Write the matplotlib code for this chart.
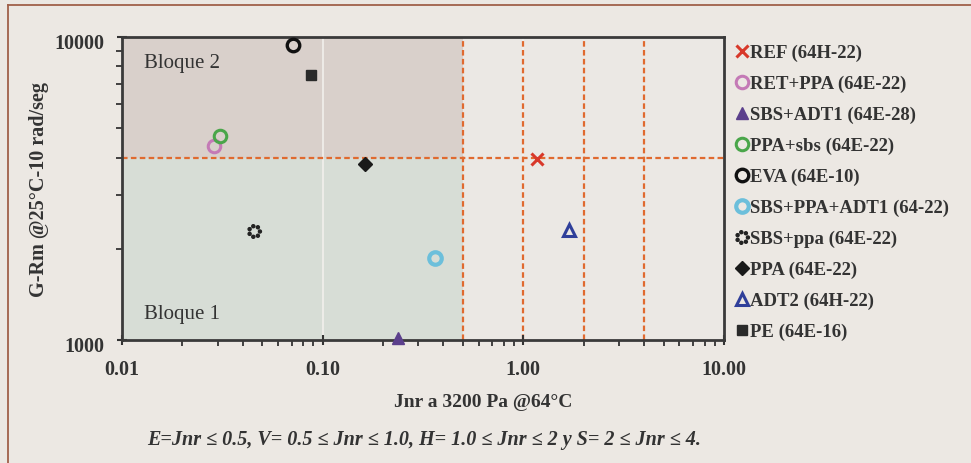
import math
import matplotlib.pyplot as plt
import matplotlib.transforms as mtransforms
from matplotlib.path import Path
from matplotlib.ticker import FixedLocator, FixedFormatter, NullFormatter, LogLocator
from matplotlib.lines import Line2D

plt.rcParams['font.family'] = ['Liberation Serif', 'DejaVu Serif']

# binder samples: Jnr at 3200 Pa (64 C) vs G-Rm at 25 C
labels = ["REF (64H-22)", "RET+PPA (64E-22)", "SBS+ADT1 (64E-28)", "PPA+sbs (64E-22)",
          "EVA (64E-10)", "SBS+PPA+ADT1 (64-22)", "SBS+ppa (64E-22)", "PPA (64E-22)",
          "ADT2 (64H-22)", "PE (64E-16)"]
jnr = [1.17, 0.0287, 0.237, 0.0308, 0.0711, 0.363, 0.0455, 0.1625, 1.69, 0.0874]
grm = [3950, 4370, 1015, 4710, 9410, 1865, 2290, 3810, 2306, 7490]

# classification limits
jnr_limits = [0.5, 1.0, 2.0, 4.0]
grm_limit = 4000
x_range = [0.01, 10.0]
y_range = [1000, 10000]

# ring of dots used for the SBS+ppa marker
dots = []
for k in range(7):
    a = 2 * math.pi * k / 7
    dots.append(Path.circle((math.cos(a), math.sin(a)), 0.28))
dot_ring = Path.make_compound_path(*dots)

styles = [
    dict(marker='x', color='#d8382a', ms=8, mew=2.2),
    dict(marker='o', mfc='none', mec='#c47ab6', ms=9, mew=2.2),
    dict(marker='^', color='#5b3f8c', ms=9),
    dict(marker='o', mfc='none', mec='#4aa64a', ms=9, mew=2.2),
    dict(marker='o', mfc='none', mec='#111111', ms=9, mew=2.4),
    dict(marker='o', mfc='none', mec='#6cbfdb', ms=9, mew=3.0),
    dict(marker=dot_ring, color='#222222', ms=10),
    dict(marker='D', color='#1a1a1a', ms=7),
    dict(marker='^', mfc='none', mec='#2f3f9a', ms=9, mew=2.2),
    dict(marker='s', color='#2a2a2a', ms=7),
]

bg = '#ece8e3'
txt = '#333333'
fig = plt.figure(figsize=(9.71, 4.64), dpi=100, facecolor=bg)
ax = fig.add_axes([0.1256, 0.265, 0.62, 0.653])
ax.set_facecolor('#ebe8e4')
ax.set_xscale('log')
ax.set_yscale('log')
ax.set_xlim(x_range)
ax.set_ylim(y_range)

# shaded blocks
ax.fill_between([x_range[0], jnr_limits[0]], grm_limit, y_range[1], color='#d9d0cb', lw=0, zorder=0)
ax.fill_between([x_range[0], jnr_limits[0]], y_range[0], grm_limit, color='#d7ddd6', lw=0, zorder=0)

# faint major grid
for xv in [0.1, 1.0]:
    ax.axvline(xv, color='#f2f0ec', lw=1.2, zorder=0.5)

# dashed limit lines
for xv in jnr_limits:
    ax.axvline(xv, color='#e06a30', lw=1.6, ls=(0, (2.5, 1.5)), zorder=1)
ax.axhline(grm_limit, color='#e06a30', lw=1.6, ls=(0, (2.5, 1.5)), zorder=1)

handles = []
for x, y, lab, st in zip(jnr, grm, labels, styles):
    h, = ax.plot([x], [y], ls='none', label=lab, zorder=3, clip_on=False, **st)
    handles.append(h)

ax.text(0.0129, 8270, "Bloque 2", fontsize=15, color=txt, va='center')
ax.text(0.0129, 1228, "Bloque 1", fontsize=15, color=txt, va='center')

# ticks
ax.xaxis.set_major_locator(FixedLocator([0.01, 0.1, 1, 10]))
ax.xaxis.set_major_formatter(FixedFormatter(["0.01", "0.10", "1.00", "10.00"]))
ax.xaxis.set_minor_locator(LogLocator(base=10, subs=range(2, 10)))
ax.xaxis.set_minor_formatter(NullFormatter())
ax.yaxis.set_major_locator(FixedLocator([1000, 10000]))
ax.yaxis.set_major_formatter(FixedFormatter(["1000", "10000"]))
ax.yaxis.set_minor_locator(LogLocator(base=10, subs=range(2, 10)))
ax.yaxis.set_minor_formatter(NullFormatter())
ax.tick_params(which='major', direction='inout', length=7, width=1.5, colors=txt,
               labelsize=14.5, pad=9)
ax.tick_params(which='minor', direction='out', length=4, width=1.3, colors=txt)
ax.tick_params(axis='x', which='major', pad=10)
down = mtransforms.ScaledTranslation(0, -3 / 100, fig.dpi_scale_trans)
for lbl in ax.get_xticklabels() + ax.get_yticklabels():
    lbl.set_fontweight('bold')
    lbl.set_color(txt)
for lbl in ax.get_yticklabels():
    lbl.set_transform(lbl.get_transform() + down)

for s in ax.spines.values():
    s.set_linewidth(2)
    s.set_color('#3a3a3a')

ax.set_ylabel("G-Rm @25°C-10 rad/seg", fontsize=14.5, fontweight='bold', color=txt, labelpad=4)
fig.text(483 / 971, 1 - 403 / 464, "Jnr a 3200 Pa @64°C", fontsize=14, fontweight='bold',
         color=txt, ha='center', va='center')
fig.text(424 / 971, 1 - 440 / 464, "E=Jnr ≤ 0.5, V= 0.5 ≤ Jnr ≤ 1.0, H= 1.0 ≤ Jnr ≤ 2 y S= 2 ≤ Jnr ≤ 4.",
         fontsize=14.5, style='italic', fontweight='bold', color=txt, ha='center', va='center')

leg = ax.legend(handles=handles, loc='upper left', bbox_to_anchor=(1.0, 1.02), frameon=False,
                handlelength=0.55, handletextpad=0.15, labelspacing=0.73, borderaxespad=0.3,
                prop={'size': 13.5, 'weight': 'bold'})
for t in leg.get_texts():
    t.set_color(txt)

# outer frame line, top and left
fig.add_artist(Line2D([8 / 971, 1.0], [1 - 6 / 464, 1 - 6 / 464], transform=fig.transFigure,
                      color='#a0604a', lw=1.3))
fig.add_artist(Line2D([8 / 971, 8 / 971], [0.0, 1 - 6 / 464], transform=fig.transFigure,
                      color='#a0604a', lw=1.3))

fig.savefig('out.png', dpi=100, facecolor=bg)
